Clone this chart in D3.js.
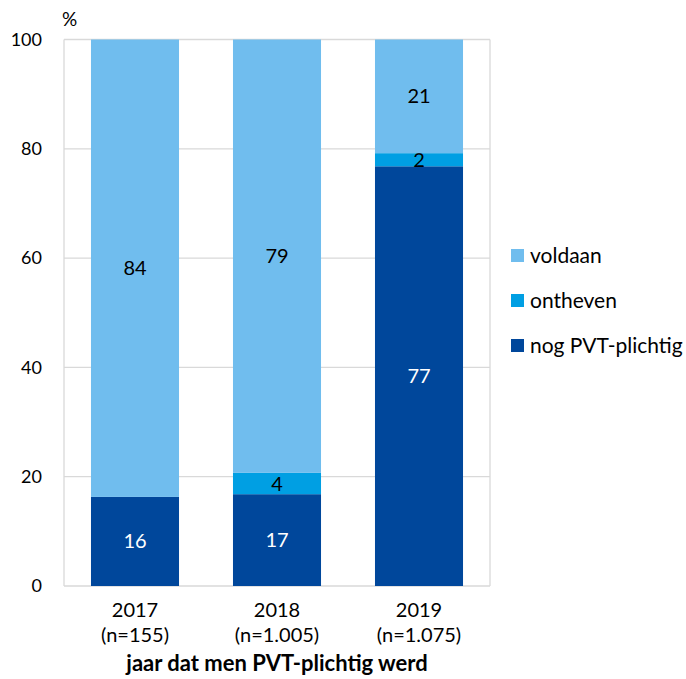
<!DOCTYPE html>
<html><head><meta charset="utf-8">
<script src="https://cdn.jsdelivr.net/npm/d3@7"></script>
<style>body{margin:0;background:#fff}svg{display:block;font-family:Lato,"Open Sans",sans-serif}</style>
</head><body><svg id="c" width="686" height="679"></svg>
<script>
const categories = ["2017", "2018", "2019"];
const catSub = ["(n=155)", "(n=1.005)", "(n=1.075)"];
const seriesNames = ["nog PVT-plichtig", "ontheven", "voldaan"];
const nogValues = [16.3, 16.8, 76.8];
const onthevenValues = [0, 3.9, 2.4];
const voldaanValues = [83.7, 79.3, 20.8];
const yTicks = [0, 20, 40, 60, 80, 100];
const colors = ["#00479B", "#009FE3", "#70BDEE"];
const labelColors = ["#ffffff", "#000000", "#000000"];

const svg = d3.select("#c");
const m = {l: 64, r: 490, t: 39.5, b: 586};
const x = d3.scaleBand().domain(categories).range([m.l, m.r]).paddingInner(0.38).paddingOuter(0.19);
const y = d3.scaleLinear().domain([0, 100]).range([m.b, m.t]);

// grid
svg.append("g").selectAll("line").data(yTicks).join("line")
  .attr("x1", m.l).attr("x2", m.r).attr("y1", d => y(d)).attr("y2", d => y(d))
  .attr("stroke", "#d9d9d9").attr("stroke-width", 1.3);
svg.append("line").attr("x1", m.l).attr("x2", m.l).attr("y1", m.t).attr("y2", m.b).attr("stroke", "#d9d9d9").attr("stroke-width", 1.3);
svg.append("line").attr("x1", m.r).attr("x2", m.r).attr("y1", m.t).attr("y2", m.b).attr("stroke", "#d9d9d9").attr("stroke-width", 1.3);

const data = categories.map((c, i) => ({cat: c, nog: nogValues[i], ont: onthevenValues[i], vol: voldaanValues[i]}));
const keys = ["nog", "ont", "vol"];
const stack = d3.stack().keys(keys)(data);

stack.forEach((s, si) => {
  const g = svg.append("g");
  g.selectAll("rect").data(s).join("rect")
    .attr("x", d => x(d.data.cat)).attr("width", x.bandwidth())
    .attr("y", d => y(d[1])).attr("height", d => y(d[0]) - y(d[1]))
    .attr("fill", colors[si]);
  g.selectAll("text").data(s.filter(d => d[1] - d[0] > 0)).join("text")
    .attr("x", d => x(d.data.cat) + x.bandwidth() / 2)
    .attr("y", d => y((d[0] + d[1]) / 2))
    .attr("dy", "0.35em").attr("text-anchor", "middle")
    .attr("font-size", 20).attr("fill", labelColors[si])
    .text(d => Math.round(d[1] - d[0]));
});

// y axis labels
svg.append("g").selectAll("text").data(yTicks).join("text")
  .attr("x", 42).attr("y", d => y(d)).attr("dy", "0.35em").attr("text-anchor", "end")
  .attr("font-size", 18).attr("fill", "#000").text(d => d);
svg.append("text").attr("x", 62).attr("y", 26).attr("font-size", 19).text("%");

// x labels
const xl = svg.append("g");
categories.forEach((c, i) => {
  const cx = x(c) + x.bandwidth() / 2;
  xl.append("text").attr("x", cx).attr("y", 617).attr("text-anchor", "middle").attr("font-size", 20).text(c);
  xl.append("text").attr("x", cx).attr("y", 642).attr("text-anchor", "middle").attr("font-size", 20).text(catSub[i]);
});
svg.append("text").attr("x", (m.l + m.r) / 2).attr("y", 671).attr("text-anchor", "middle")
  .attr("font-size", 22).attr("font-weight", "bold").text("jaar dat men PVT-plichtig werd");

// legend
const legOrder = [2, 1, 0];
const lg = svg.append("g");
legOrder.forEach((si, k) => {
  const yy = 256 + k * 45;
  lg.append("rect").attr("x", 511).attr("y", yy - 7).attr("width", 13).attr("height", 13).attr("fill", colors[si]);
  lg.append("text").attr("x", 530).attr("y", yy).attr("dy", "0.35em").attr("font-size", 21).text(seriesNames[si]);
});
</script></body></html>
